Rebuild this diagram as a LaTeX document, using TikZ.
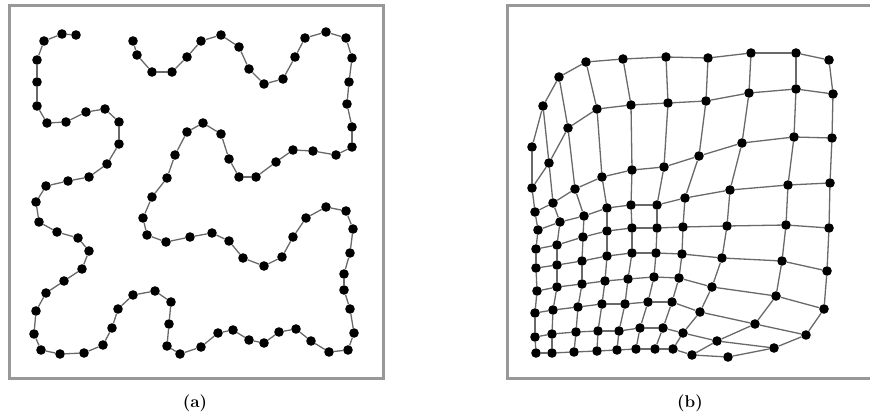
\documentclass[tikz,border=0pt]{standalone}
\usepackage{tikz}
\definecolor{linkgray}{RGB}{105,105,105}
\definecolor{framegray}{RGB}{152,152,152}
\begin{document}
\begin{tikzpicture}[x=1pt,y=-1pt,
  dot/.style={circle,fill=black,inner sep=0pt,minimum size=9.6pt},
  link/.style={draw=linkgray,line width=1.3pt},
  frame/.style={draw=framegray,line width=3pt},
  caption/.style={font=\fontsize{17}{19}\selectfont\bfseries}]
\useasboundingbox (0,0) rectangle (870,419);
% frames
\draw[frame] (9,6) rectangle (383,378.5);
\draw[frame] (507.5,6) rectangle (873,378.5);
% (a) chain
\foreach \p [count=\i] in {(76,35),(62,34),(44,41),(37,60),(37,82),(37,106),(47,123),(66,122),(86,112),(105,109),
(119,122),(119,144),(107,164),(89,177),(68,181),(46,186),(36,202),(39,222),(57,232),(78,238),
(89,251),(82,269),(64,281),(46,293),(36,311),(34,334),(41,350),(60,354),(84,353),(103,345),
(112,328),(118,309),(133,295),(155,291),(171,302),(169,324),(167,346),(180,354),(201,347),(218,333),
(233,330),(249,340),(264,343),(279,332),(296,329),(311,341),(329,352),(348,350),(354,333),(350,309),
(344,290),(344,274),(350,253),(353,229),(346,211),(326,207),(306,218),(293,237),(282,257),(264,266),
(243,258),(229,241),(212,233),(190,237),(166,242),(147,235),(143,218),(152,197),(167,178),(175,155),
(187,132),(203,123),(221,134),(229,159),(239,177),(256,177),(276,162),(293,150),(313,151),(336,155),
(352,147),(352,127),(347,104),(349,82),(352,58),(346,38),(326,32),(305,38),(295,57),(283,79),
(264,84),(249,69),(239,47),(221,35),(201,41),(187,57),(172,72),(152,72),(137,55),(133,41)}
  \node[dot] (a\i) at \p {};
\foreach \i [evaluate=\i as \j using int(\i+1)] in {1,...,99}
  \draw[link] (a\i) -- (a\j);
% (b) mesh, node mRC = row R, column C
\foreach \p [count=\k from 0] in {(532,147),(543,106),(559,77),(586,62),(623,59),(666,57),(708,58),(751,53),(796,53),(829,60)}
  \node[dot] (m0\k) at \p {};
\foreach \p [count=\k from 0] in {(532,188),(549,163),(568,128),(597,109),(631,105),(668,103),(706,101),(749,93),(796,89),(833,94)}
  \node[dot] (m1\k) at \p {};
\foreach \p [count=\k from 0] in {(535,212),(553,203),(575,189),(602,177),(632,170),(664,167),(699,156),(742,143),(794,137),(832,138)}
  \node[dot] (m2\k) at \p {};
\foreach \p [count=\k from 0] in {(538,230),(560,222),(584,216),(607,208),(631,205),(657,205),(685,198),(730,190),(788,185),(830,183)}
  \node[dot] (m3\k) at \p {};
\foreach \p [count=\k from 0] in {(536,249),(557,245),(583,237),(607,231),(632,228),(657,228),(683,227),(727,226),(786,225),(829,228)}
  \node[dot] (m4\k) at \p {};
\foreach \p [count=\k from 0] in {(536,268),(557,265),(582,261),(607,256),(632,253),(656,253),(682,254),(722,258),(782,261),(827,271)}
  \node[dot] (m5\k) at \p {};
\foreach \p [count=\k from 0] in {(537,291),(557,287),(582,284),(605,281),(628,279),(654,277),(679,278),(712,287),(776,296),(824,309)}
  \node[dot] (m6\k) at \p {};
\foreach \p [count=\k from 0] in {(535,313),(553,310),(578,307),(602,304),(625,304),(648,302),(672,302),(700,312),(755,324),(806,335)}
  \node[dot] (m7\k) at \p {};
\foreach \p [count=\k from 0] in {(535,337),(552,334),(576,332),(598,331),(619,331),(640,328),(663,328),(683,333),(717,341),(774,348)}
  \node[dot] (m8\k) at \p {};
\foreach \p [count=\k from 0] in {(536,353),(552,353),(574,352),(597,351),(617,350),(636,349),(655,349),(673,349),(692,355),(728,357)}
  \node[dot] (m9\k) at \p {};
% horizontal links
\foreach \ra in {0,...,9}{
  \foreach \ca [evaluate=\ca as \cb using int(\ca+1)] in {0,...,8}{
    \draw[link] (m\ra\ca) -- (m\ra\cb);
  }
}
% vertical links
\foreach \ca in {0,...,9}{
  \foreach \ra [evaluate=\ra as \rb using int(\ra+1)] in {0,...,8}{
    \draw[link] (m\ra\ca) -- (m\rb\ca);
  }
}
% captions
\node[caption] (capa) at (195,403) {(a)};
\node[caption] (capb) at (690,403) {(b)};
\end{tikzpicture}
\end{document}
